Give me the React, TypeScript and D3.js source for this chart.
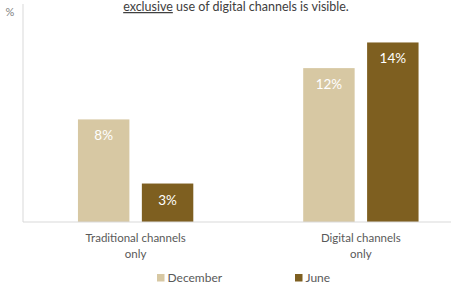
import React from "react";
import * as d3 from "d3";

const categories = ["Traditional channels|only", "Digital channels|only"];
const seriesNames = ["December", "June"];
const december = [8, 12];
const june = [3, 14];
const titleUnderlined = "exclusive";
const titleRest = " use of digital channels is visible.";
const yUnit = "%";

const W = 451;
const H = 286;
const colors = ["#D7C8A3", "#7E5F20"];
const font = "Lato, 'Open Sans', sans-serif";

export default function App() {
  const x0 = d3.scaleBand<string>().domain(categories).range([23, 473.5]).paddingInner(0).paddingOuter(0);
  const x1 = d3.scaleBand<string>().domain(seriesNames).range([0, x0.bandwidth()]).paddingInner(0.195).paddingOuter(0.86);
  const y = d3.scaleLinear().domain([0, 17]).range([222, 4]);
  const series = [december, june];

  return (
    <svg width={W} height={H} style={{ position: "absolute", left: 0, top: 0, background: "#fff" }}>
      <text x={236} y={11} textAnchor="middle" fontFamily={font} fontSize={12.5} fill="#404040">
        <tspan textDecoration="underline">{titleUnderlined}</tspan>
        <tspan>{titleRest}</tspan>
      </text>
      <text x={10} y={16} textAnchor="middle" fontFamily={font} fontSize={11} fill="#7f7f7f">{yUnit}</text>
      <line x1={23} x2={23} y1={y(17)} y2={y(0)} stroke="#d9d9d9" strokeWidth={1} />
      {categories.map((c, ci) =>
        seriesNames.map((s, si) => {
          const v = series[si][ci];
          const bx = (x0(c) as number) + (x1(s) as number);
          const bw = x1.bandwidth();
          return (
            <g key={c + s}>
              <rect x={bx} y={y(v)} width={bw} height={y(0) - y(v)} fill={colors[si]} />
              <text x={bx + bw / 2} y={y(v) + 21} textAnchor="middle" fontFamily={font} fontSize={13.5} fill="#ffffff">{v}%</text>
            </g>
          );
        })
      )}
      <line x1={23} x2={W} y1={y(0)} y2={y(0)} stroke="#d9d9d9" strokeWidth={1} />
      {categories.map((c) => {
        const cx = (x0(c) as number) + x0.bandwidth() / 2;
        return c.split("|").map((ln, i) => (
          <text key={c + i} x={cx} y={242 + i * 15.5} textAnchor="middle" fontFamily={font} fontSize={11.5} fill="#595959">{ln}</text>
        ));
      })}
      {seriesNames.map((s, i) => {
        const lx = [157, 295][i];
        return (
          <g key={s}>
            <rect x={lx} y={274} width={7.5} height={7.5} fill={colors[i]} />
            <text x={lx + 10.5} y={282} fontFamily={font} fontSize={12} fill="#595959">{s}</text>
          </g>
        );
      })}
    </svg>
  );
}
